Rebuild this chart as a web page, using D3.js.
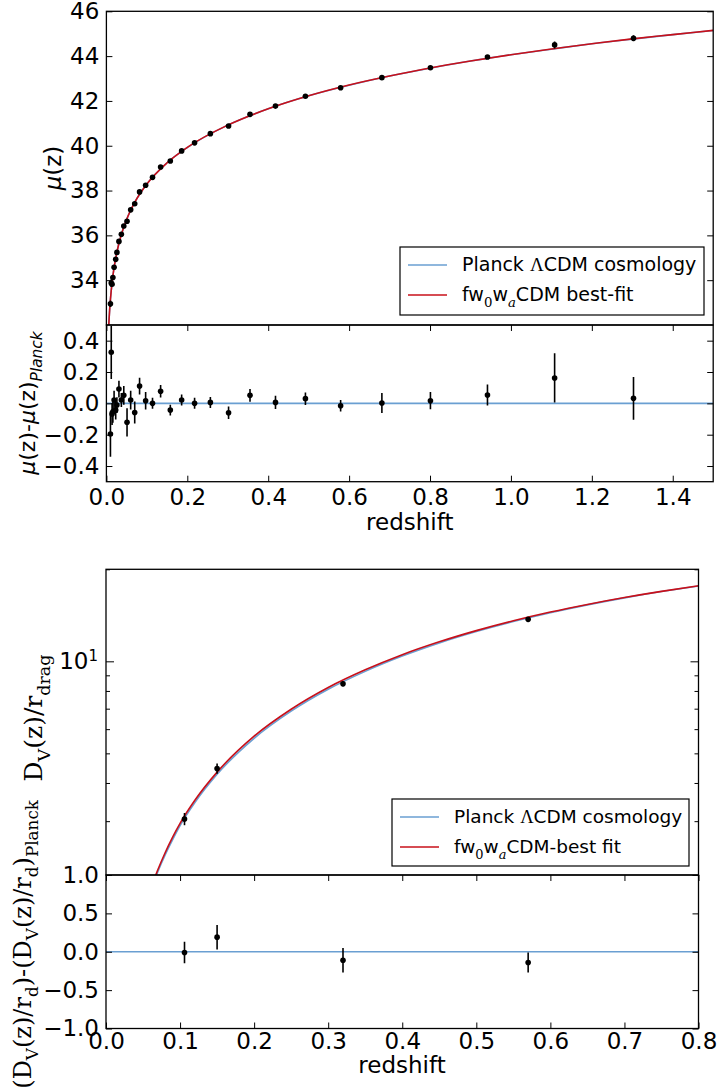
<!DOCTYPE html>
<html>
<head>
<meta charset="utf-8">
<script src="https://cdn.jsdelivr.net/npm/d3@7"></script>
<style>
  body { margin: 0; background: #fff; }
  svg { display: block; }
  text { font-family: "DejaVu Sans", sans-serif; fill: #000; }
</style>
</head>
<body>
<svg id="chart" width="718" height="1090"></svg>
<script>
// --- SN Ia binned Hubble diagram ---
var snZ = [0.010, 0.012, 0.014, 0.016, 0.019, 0.023, 0.026, 0.031, 0.037, 0.043, 0.051,
           0.060, 0.070, 0.082, 0.097, 0.114, 0.134, 0.158, 0.186, 0.218, 0.257, 0.302,
           0.355, 0.418, 0.492, 0.579, 0.681, 0.801, 0.942, 1.108, 1.303];
var snMu = [32.95, 33.87, 33.82, 34.12, 34.58, 34.93, 35.24, 35.73, 36.05, 36.42, 36.63,
            37.14, 37.41, 37.94, 38.24, 38.59, 39.05, 39.32, 39.77, 40.13, 40.54, 40.88,
            41.40, 41.77, 42.21, 42.59, 43.04, 43.48, 43.96, 44.50, 44.80];
var snRes = [-0.196, 0.326, -0.068, -0.054, 0.021, -0.043, -0.011, 0.091, 0.021, 0.051, -0.121,
             0.021, -0.058, 0.110, 0.017, 0.000, 0.077, -0.043, 0.021, 0.000, 0.006, -0.060,
             0.051, 0.006, 0.030, -0.015, 0.002, 0.017, 0.053, 0.162, 0.032];
var snErr = [0.145, 0.170, 0.070, 0.070, 0.060, 0.060, 0.050, 0.053, 0.045, 0.060, 0.090,
             0.060, 0.070, 0.053, 0.056, 0.035, 0.040, 0.034, 0.035, 0.035, 0.035, 0.040,
             0.040, 0.042, 0.040, 0.037, 0.064, 0.055, 0.067, 0.157, 0.136];

// model curves for mu(z)
var muCurveZ = [0.005, 0.006, 0.008, 0.010, 0.015, 0.020, 0.030, 0.040, 0.050, 0.070, 0.100,
                0.150, 0.200, 0.300, 0.400, 0.500, 0.600, 0.700, 0.800, 0.900, 1.000,
                1.100, 1.200, 1.300, 1.400, 1.500];
var muPlanck = [31.63, 32.03, 32.66, 33.15, 34.04, 34.67, 35.57, 36.21, 36.71, 37.47, 38.29,
                39.24, 39.92, 40.92, 41.65, 42.23, 42.70, 43.11, 43.46, 43.78, 44.06,
                44.31, 44.55, 44.76, 44.96, 45.14];
var muFit = [31.64, 32.04, 32.67, 33.15, 34.04, 34.67, 35.57, 36.21, 36.71, 37.47, 38.29,
             39.24, 39.93, 40.92, 41.65, 42.23, 42.71, 43.11, 43.47, 43.78, 44.06,
             44.32, 44.55, 44.77, 44.96, 45.15];

// --- BAO D_V / r_drag ---
var baoZ = [0.106, 0.15, 0.32, 0.57];
var baoDv = [3.05, 4.46, 8.45, 13.72];
var baoDvErr = [0.14, 0.17, 0.17, 0.14];
var baoRes = [-0.01, 0.19, -0.11, -0.14];
var baoResErr = [0.14, 0.16, 0.16, 0.13];

var dvCurveZ = [0.06, 0.07, 0.08, 0.09, 0.10, 0.12, 0.15, 0.20, 0.25, 0.30, 0.35,
                0.40, 0.45, 0.50, 0.55, 0.60, 0.65, 0.70, 0.75, 0.80];
var dvPlanck = [1.77, 2.05, 2.33, 2.61, 2.90, 3.45, 4.27, 5.60, 6.87, 8.10, 9.27,
                10.40, 11.48, 12.51, 13.49, 14.42, 15.30, 16.13, 16.91, 17.64];
var dvFit = [1.80, 2.08, 2.37, 2.66, 2.95, 3.51, 4.34, 5.69, 6.97, 8.21, 9.38,
             10.51, 11.58, 12.60, 13.57, 14.49, 15.35, 16.17, 16.94, 17.66];

// tick values
var topXTicks = [0, 0.2, 0.4, 0.6, 0.8, 1.0, 1.2, 1.4];
var muTicks = [34, 36, 38, 40, 42, 44, 46];
var muResTicks = [-0.4, -0.2, 0, 0.2, 0.4];
var botXTicks = [0, 0.1, 0.2, 0.3, 0.4, 0.5, 0.6, 0.7, 0.8];
var dvMinorTicks = [2, 3, 4, 5, 6, 7, 8, 9, 20];
var dvResTicks = [-1, -0.5, 0, 0.5, 1];

var BLUE = "#6a9fd2", RED = "#c8101a";
var FS = 23;

var svg = d3.select("#chart");
var defs = svg.append("defs");

function clip(id, x, y, w, h) {
    defs.append("clipPath").attr("id", id)
        .append("rect").attr("x", x).attr("y", y).attr("width", w).attr("height", h);
    return "url(#" + id + ")";
}

// tspan helper for sub/superscripts
function rich(textSel, parts, base) {
    var shift = 0;
    parts.forEach(function(p) {
        var ts = textSel.append("tspan").text(p.t);
        var target = p.sub ? 0.3 * base : (p.sup ? -0.45 * base : 0);
        if (target - shift !== 0) ts.attr("dy", target - shift);
        shift = target;
        if (p.sub || p.sup) ts.attr("font-size", (base * 0.7) + "px");
        if (p.it) ts.style("font-style", "italic");
        if (p.serif) ts.style("font-family", "'DejaVu Serif', serif");
        if (p.lserif) ts.style("font-family", "'Liberation Serif', serif");
    });
}

var fmt1 = d3.format(".1f");

function frameAxes(g, x, y, xT, yT, opt) {
    var x0 = x.range()[0], x1 = x.range()[1];
    var yb = y.range()[0], yt = y.range()[1];
    var bottom = d3.axisBottom(x).tickValues(xT).tickSizeInner(-6).tickSizeOuter(0)
        .tickPadding(opt.xPad || 7);
    bottom.tickFormat(opt.xLabels ? fmt1 : "");
    g.append("g").attr("transform", "translate(0," + yb + ")").call(bottom);
    g.append("g").attr("transform", "translate(0," + yt + ")")
        .call(d3.axisTop(x).tickValues(xT).tickSizeInner(-6).tickSizeOuter(0).tickFormat(""));
    if (yT) {
        g.append("g").attr("transform", "translate(" + x0 + ",0)")
            .call(d3.axisLeft(y).tickValues(yT).tickSizeInner(-6).tickSizeOuter(0).tickPadding(7)
                .tickFormat(opt.yFmt));
        g.append("g").attr("transform", "translate(" + x1 + ",0)")
            .call(d3.axisRight(y).tickValues(yT).tickSizeInner(-6).tickSizeOuter(0).tickFormat(""));
    }
    g.selectAll(".domain").remove();
    g.selectAll(".tick line").attr("stroke", "#000").attr("stroke-width", 1);
    g.selectAll(".tick text").attr("font-size", FS + "px").attr("font-family", "DejaVu Sans");
    g.append("rect").attr("x", x0).attr("y", yt).attr("width", x1 - x0).attr("height", yb - yt)
        .attr("fill", "none").attr("stroke", "#000").attr("stroke-width", 1.3);
}

function errorbars(g, xs, ys, es, x, y, cp) {
    var gg = g.append("g").attr("clip-path", cp);
    gg.selectAll("line").data(xs).enter().append("line")
        .attr("x1", function(d) { return x(d); })
        .attr("x2", function(d) { return x(d); })
        .attr("y1", function(d, i) { return y(ys[i] - es[i]); })
        .attr("y2", function(d, i) { return y(ys[i] + es[i]); })
        .attr("stroke", "#000").attr("stroke-width", 1.6);
    gg.selectAll("circle").data(xs).enter().append("circle")
        .attr("cx", function(d) { return x(d); })
        .attr("cy", function(d, i) { return y(ys[i]); })
        .attr("r", 2.8).attr("fill", "#000");
}

function curve(g, xs, ys, x, y, color, cp) {
    var line = d3.line()
        .x(function(d) { return x(d[0]); })
        .y(function(d) { return y(d[1]); })
        .curve(d3.curveMonotoneX);
    g.append("path").datum(d3.zip(xs, ys)).attr("d", line)
        .attr("fill", "none").attr("stroke", color).attr("stroke-width", 1.6)
        .attr("clip-path", cp);
}

function legend(g, x, y, w, h, fs, lines) {
    g.append("rect").attr("x", x).attr("y", y).attr("width", w).attr("height", h)
        .attr("fill", "#fff").attr("stroke", "#000").attr("stroke-width", 1.2);
    lines.forEach(function(l, i) {
        var ly = y + 18 + i * 30;
        g.append("line").attr("x1", x + 8).attr("x2", x + 47).attr("y1", ly).attr("y2", ly)
            .attr("stroke", l.color).attr("stroke-width", 1.6);
        var t = g.append("text").attr("x", x + 62).attr("y", ly + 6).attr("font-size", fs + "px");
        rich(t, l.parts, fs);
    });
}

// ================= top figure =================
var xTop = d3.scaleLinear().domain([0, 1.5]).range([106.4, 713.2]);
var yMu = d3.scaleLinear().domain([32, 46]).range([325, 11.3]);
var yMuRes = d3.scaleLinear().domain([-0.5, 0.5]).range([481.7, 325]);

var gTop = svg.append("g");
var cpMu = clip("cpMu", 106.4, 11.3, 606.8, 313.7);
var cpMuRes = clip("cpMuRes", 106.4, 325, 606.8, 156.7);

curve(gTop, muCurveZ, muPlanck, xTop, yMu, BLUE, cpMu);
curve(gTop, muCurveZ, muFit, xTop, yMu, RED, cpMu);
errorbars(gTop, snZ, snMu, snErr, xTop, yMu, cpMu);
legend(gTop, 400, 247, 304, 68, 19, [
    { color: BLUE, parts: [{ t: "Planck " }, { t: "Λ", lserif: true }, { t: "CDM cosmology" }] },
    { color: RED, parts: [{ t: "fw" }, { t: "0", sub: true, serif: true }, { t: "w" },
        { t: "a", sub: true, it: true, serif: true }, { t: "CDM best-fit" }] }
]);
frameAxes(gTop, xTop, yMu, [], muTicks, { xLabels: false, yFmt: d3.format("d") });

// residual panel
gTop.append("line").attr("x1", xTop(0)).attr("x2", xTop(1.5))
    .attr("y1", yMuRes(0)).attr("y2", yMuRes(0))
    .attr("stroke", BLUE).attr("stroke-width", 1.6);
errorbars(gTop, snZ, snRes, snErr, xTop, yMuRes, cpMuRes);
frameAxes(gTop, xTop, yMuRes, topXTicks, muResTicks, { xLabels: true, yFmt: fmt1, xPad: 7 });

gTop.append("text").attr("x", 409.8).attr("y", 530).attr("text-anchor", "middle")
    .attr("font-size", FS + "px").text("redshift");

var t1 = gTop.append("text").attr("transform", "translate(61,168) rotate(-90)")
    .attr("text-anchor", "middle").attr("font-size", FS + "px");
rich(t1, [{ t: "μ", it: true }, { t: "(z)" }], FS);

var t2 = gTop.append("text").attr("transform", "translate(35,403) rotate(-90)")
    .attr("text-anchor", "middle").attr("font-size", "22px");
rich(t2, [{ t: "μ", it: true }, { t: "(z)-" }, { t: "μ", it: true }, { t: "(z)" },
    { t: "Planck", sub: true, it: true }], 22);

// ================= bottom figure =================
var xBot = d3.scaleLinear().domain([0, 0.8]).range([106, 698.5]);
var yDv = d3.scaleLog().domain([2, 20]).range([875, 569.3]);
var yDvRes = d3.scaleLinear().domain([-1, 1]).range([1028.5, 875]);

var gBot = svg.append("g");
var cpDv = clip("cpDv", 106, 569.3, 592.5, 305.7);
var cpDvRes = clip("cpDvRes", 106, 875, 592.5, 153.5);

curve(gBot, dvCurveZ, dvPlanck, xBot, yDv, BLUE, cpDv);
curve(gBot, dvCurveZ, dvFit, xBot, yDv, RED, cpDv);
errorbars(gBot, baoZ, baoDv, baoDvErr, xBot, yDv, cpDv);
legend(gBot, 392, 799, 297, 67, 18.5, [
    { color: BLUE, parts: [{ t: "Planck " }, { t: "Λ", lserif: true }, { t: "CDM cosmology" }] },
    { color: RED, parts: [{ t: "fw" }, { t: "0", sub: true, serif: true }, { t: "w" },
        { t: "a", sub: true, it: true, serif: true }, { t: "CDM-best fit" }] }
]);
frameAxes(gBot, xBot, yDv, [], null, { xLabels: false });

// log y axis: major 10 with label, minor ticks without
gBot.append("g").attr("transform", "translate(106,0)")
    .call(d3.axisLeft(yDv).tickValues([10]).tickSizeInner(-8).tickSizeOuter(0).tickPadding(8)
        .tickFormat(function() { return "10"; }))
    .call(function(g) {
        g.selectAll(".tick text").attr("font-size", FS + "px")
            .append("tspan").attr("dy", "-0.55em").attr("font-size", "15px").text("1");
    });
gBot.append("g").attr("transform", "translate(698.5,0)")
    .call(d3.axisRight(yDv).tickValues([10]).tickSizeInner(-8).tickSizeOuter(0).tickFormat(""));
gBot.append("g").attr("transform", "translate(106,0)")
    .call(d3.axisLeft(yDv).tickValues(dvMinorTicks).tickSizeInner(-4).tickSizeOuter(0).tickFormat(""));
gBot.append("g").attr("transform", "translate(698.5,0)")
    .call(d3.axisRight(yDv).tickValues(dvMinorTicks).tickSizeInner(-4).tickSizeOuter(0).tickFormat(""));
gBot.selectAll(".domain").remove();
gBot.selectAll(".tick line").attr("stroke", "#000");

// residual panel
gBot.append("line").attr("x1", xBot(0)).attr("x2", xBot(0.8))
    .attr("y1", yDvRes(0)).attr("y2", yDvRes(0))
    .attr("stroke", BLUE).attr("stroke-width", 1.6);
errorbars(gBot, baoZ, baoRes, baoResErr, xBot, yDvRes, cpDvRes);
frameAxes(gBot, xBot, yDvRes, botXTicks, dvResTicks, { xLabels: true, yFmt: fmt1, xPad: 4 });

gBot.append("text").attr("x", 402).attr("y", 1073).attr("text-anchor", "middle")
    .attr("font-size", FS + "px").text("redshift");

var t3 = gBot.append("text").attr("transform", "translate(42,718) rotate(-90)")
    .attr("text-anchor", "middle").attr("font-size", "25px")
    .style("font-family", "'DejaVu Serif', serif");
rich(t3, [{ t: "D" }, { t: "V", sub: true }, { t: "(z)/r" }, { t: "drag", sub: true }], 25);

var t4 = gBot.append("text").attr("transform", "translate(31,800) rotate(-90)")
    .attr("text-anchor", "end").attr("font-size", "24px")
    .style("font-family", "'DejaVu Serif', serif");
rich(t4, [{ t: "(D" }, { t: "V", sub: true }, { t: "(z)/r" }, { t: "d", sub: true },
    { t: ")-(D" }, { t: "V", sub: true }, { t: "(z)/r" }, { t: "d", sub: true },
    { t: ")" }, { t: "Planck", sub: true }], 24);
</script>
</body>
</html>
